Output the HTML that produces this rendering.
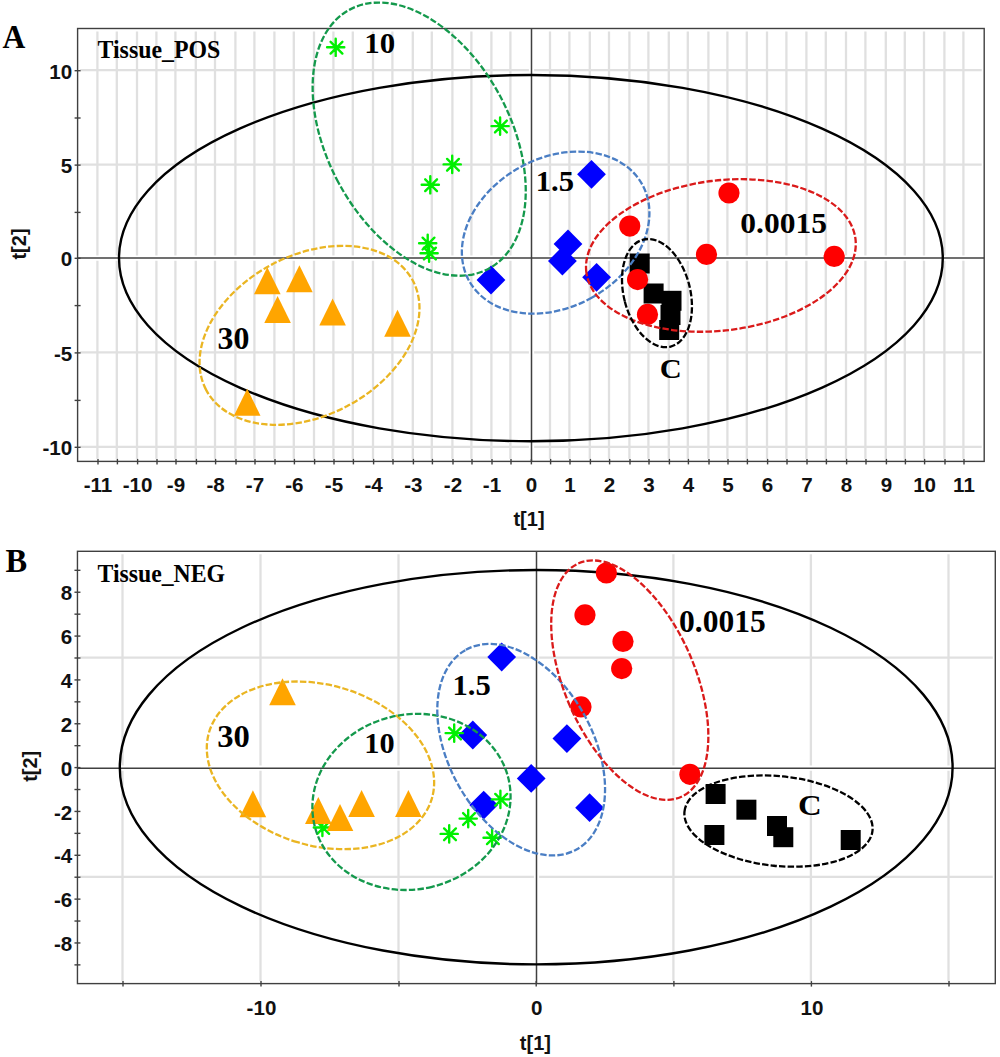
<!DOCTYPE html><html><head><meta charset="utf-8"><style>html,body{margin:0;padding:0;background:#fff;}svg{display:block;}.sans{font-family:"Liberation Sans",sans-serif;font-weight:bold;}.serif{font-family:"Liberation Serif",serif;font-weight:bold;}</style></head><body>
<svg width="1000" height="1057" viewBox="0 0 1000 1057">
<rect x="0" y="0" width="1000" height="1057" fill="#fff"/>
<line x1="97.4" y1="31.5" x2="97.4" y2="460.4" stroke="#e0e0e0" stroke-width="2.3" />
<line x1="116.8" y1="31.5" x2="116.8" y2="460.4" stroke="#e0e0e0" stroke-width="2.3" />
<line x1="137" y1="31.5" x2="137" y2="460.4" stroke="#e0e0e0" stroke-width="2.3" />
<line x1="156.4" y1="31.5" x2="156.4" y2="460.4" stroke="#e0e0e0" stroke-width="2.3" />
<line x1="175.4" y1="31.5" x2="175.4" y2="460.4" stroke="#e0e0e0" stroke-width="2.3" />
<line x1="195.8" y1="31.5" x2="195.8" y2="460.4" stroke="#e0e0e0" stroke-width="2.3" />
<line x1="215" y1="31.5" x2="215" y2="460.4" stroke="#e0e0e0" stroke-width="2.3" />
<line x1="235.4" y1="31.5" x2="235.4" y2="460.4" stroke="#e0e0e0" stroke-width="2.3" />
<line x1="254.4" y1="31.5" x2="254.4" y2="460.4" stroke="#e0e0e0" stroke-width="2.3" />
<line x1="274.4" y1="31.5" x2="274.4" y2="460.4" stroke="#e0e0e0" stroke-width="2.3" />
<line x1="293.8" y1="31.5" x2="293.8" y2="460.4" stroke="#e0e0e0" stroke-width="2.3" />
<line x1="314" y1="31.5" x2="314" y2="460.4" stroke="#e0e0e0" stroke-width="2.3" />
<line x1="333.4" y1="31.5" x2="333.4" y2="460.4" stroke="#e0e0e0" stroke-width="2.3" />
<line x1="352.8" y1="31.5" x2="352.8" y2="460.4" stroke="#e0e0e0" stroke-width="2.3" />
<line x1="373" y1="31.5" x2="373" y2="460.4" stroke="#e0e0e0" stroke-width="2.3" />
<line x1="392.4" y1="31.5" x2="392.4" y2="460.4" stroke="#e0e0e0" stroke-width="2.3" />
<line x1="412.8" y1="31.5" x2="412.8" y2="460.4" stroke="#e0e0e0" stroke-width="2.3" />
<line x1="431.8" y1="31.5" x2="431.8" y2="460.4" stroke="#e0e0e0" stroke-width="2.3" />
<line x1="452.4" y1="31.5" x2="452.4" y2="460.4" stroke="#e0e0e0" stroke-width="2.3" />
<line x1="471.4" y1="31.5" x2="471.4" y2="460.4" stroke="#e0e0e0" stroke-width="2.3" />
<line x1="491.4" y1="31.5" x2="491.4" y2="460.4" stroke="#e0e0e0" stroke-width="2.3" />
<line x1="510.4" y1="31.5" x2="510.4" y2="460.4" stroke="#e0e0e0" stroke-width="2.3" />
<line x1="550" y1="31.5" x2="550" y2="460.4" stroke="#e0e0e0" stroke-width="2.3" />
<line x1="569.4" y1="31.5" x2="569.4" y2="460.4" stroke="#e0e0e0" stroke-width="2.3" />
<line x1="589.8" y1="31.5" x2="589.8" y2="460.4" stroke="#e0e0e0" stroke-width="2.3" />
<line x1="609" y1="31.5" x2="609" y2="460.4" stroke="#e0e0e0" stroke-width="2.3" />
<line x1="629.4" y1="31.5" x2="629.4" y2="460.4" stroke="#e0e0e0" stroke-width="2.3" />
<line x1="648.4" y1="31.5" x2="648.4" y2="460.4" stroke="#e0e0e0" stroke-width="2.3" />
<line x1="668.8" y1="31.5" x2="668.8" y2="460.4" stroke="#e0e0e0" stroke-width="2.3" />
<line x1="687.8" y1="31.5" x2="687.8" y2="460.4" stroke="#e0e0e0" stroke-width="2.3" />
<line x1="708.4" y1="31.5" x2="708.4" y2="460.4" stroke="#e0e0e0" stroke-width="2.3" />
<line x1="727.4" y1="31.5" x2="727.4" y2="460.4" stroke="#e0e0e0" stroke-width="2.3" />
<line x1="746.8" y1="31.5" x2="746.8" y2="460.4" stroke="#e0e0e0" stroke-width="2.3" />
<line x1="767" y1="31.5" x2="767" y2="460.4" stroke="#e0e0e0" stroke-width="2.3" />
<line x1="786.4" y1="31.5" x2="786.4" y2="460.4" stroke="#e0e0e0" stroke-width="2.3" />
<line x1="806.4" y1="31.5" x2="806.4" y2="460.4" stroke="#e0e0e0" stroke-width="2.3" />
<line x1="825.8" y1="31.5" x2="825.8" y2="460.4" stroke="#e0e0e0" stroke-width="2.3" />
<line x1="846" y1="31.5" x2="846" y2="460.4" stroke="#e0e0e0" stroke-width="2.3" />
<line x1="865.4" y1="31.5" x2="865.4" y2="460.4" stroke="#e0e0e0" stroke-width="2.3" />
<line x1="885.8" y1="31.5" x2="885.8" y2="460.4" stroke="#e0e0e0" stroke-width="2.3" />
<line x1="904.8" y1="31.5" x2="904.8" y2="460.4" stroke="#e0e0e0" stroke-width="2.3" />
<line x1="924" y1="31.5" x2="924" y2="460.4" stroke="#e0e0e0" stroke-width="2.3" />
<line x1="944.4" y1="31.5" x2="944.4" y2="460.4" stroke="#e0e0e0" stroke-width="2.3" />
<line x1="963.4" y1="31.5" x2="963.4" y2="460.4" stroke="#e0e0e0" stroke-width="2.3" />
<line x1="78.6" y1="70.2" x2="982.2" y2="70.2" stroke="#e0e0e0" stroke-width="2.3" />
<line x1="78.6" y1="164.6" x2="982.2" y2="164.6" stroke="#e0e0e0" stroke-width="2.3" />
<line x1="78.6" y1="352.4" x2="982.2" y2="352.4" stroke="#e0e0e0" stroke-width="2.3" />
<line x1="78.6" y1="446.8" x2="982.2" y2="446.8" stroke="#e0e0e0" stroke-width="2.3" />
<rect x="77.6" y="28.5" width="906.6" height="432.9" fill="none" stroke="#fff" stroke-width="5"/>
<line x1="531.5" y1="28.5" x2="531.5" y2="461.4" stroke="#fff" stroke-width="5.2" />
<line x1="77.6" y1="258.1" x2="984.2" y2="258.1" stroke="#fff" stroke-width="5.2" />
<line x1="531.5" y1="28.5" x2="531.5" y2="461.4" stroke="#404040" stroke-width="1.5" />
<line x1="77.6" y1="258.1" x2="984.2" y2="258.1" stroke="#404040" stroke-width="1.5" />
<rect x="77.6" y="28.5" width="906.6" height="432.9" fill="none" stroke="#404040" stroke-width="1.4"/>
<line x1="98" y1="458.9" x2="98" y2="464.4" stroke="#404040" stroke-width="1.4" />
<line x1="117.4" y1="458.9" x2="117.4" y2="464.4" stroke="#404040" stroke-width="1.4" />
<line x1="137.6" y1="458.9" x2="137.6" y2="464.4" stroke="#404040" stroke-width="1.4" />
<line x1="157" y1="458.9" x2="157" y2="464.4" stroke="#404040" stroke-width="1.4" />
<line x1="176" y1="458.9" x2="176" y2="464.4" stroke="#404040" stroke-width="1.4" />
<line x1="196.4" y1="458.9" x2="196.4" y2="464.4" stroke="#404040" stroke-width="1.4" />
<line x1="215.6" y1="458.9" x2="215.6" y2="464.4" stroke="#404040" stroke-width="1.4" />
<line x1="236" y1="458.9" x2="236" y2="464.4" stroke="#404040" stroke-width="1.4" />
<line x1="255" y1="458.9" x2="255" y2="464.4" stroke="#404040" stroke-width="1.4" />
<line x1="275" y1="458.9" x2="275" y2="464.4" stroke="#404040" stroke-width="1.4" />
<line x1="294.4" y1="458.9" x2="294.4" y2="464.4" stroke="#404040" stroke-width="1.4" />
<line x1="314.6" y1="458.9" x2="314.6" y2="464.4" stroke="#404040" stroke-width="1.4" />
<line x1="334" y1="458.9" x2="334" y2="464.4" stroke="#404040" stroke-width="1.4" />
<line x1="353.4" y1="458.9" x2="353.4" y2="464.4" stroke="#404040" stroke-width="1.4" />
<line x1="373.6" y1="458.9" x2="373.6" y2="464.4" stroke="#404040" stroke-width="1.4" />
<line x1="393" y1="458.9" x2="393" y2="464.4" stroke="#404040" stroke-width="1.4" />
<line x1="413.4" y1="458.9" x2="413.4" y2="464.4" stroke="#404040" stroke-width="1.4" />
<line x1="432.4" y1="458.9" x2="432.4" y2="464.4" stroke="#404040" stroke-width="1.4" />
<line x1="453" y1="458.9" x2="453" y2="464.4" stroke="#404040" stroke-width="1.4" />
<line x1="472" y1="458.9" x2="472" y2="464.4" stroke="#404040" stroke-width="1.4" />
<line x1="492" y1="458.9" x2="492" y2="464.4" stroke="#404040" stroke-width="1.4" />
<line x1="511" y1="458.9" x2="511" y2="464.4" stroke="#404040" stroke-width="1.4" />
<line x1="531.4" y1="458.9" x2="531.4" y2="464.4" stroke="#404040" stroke-width="1.4" />
<line x1="550.6" y1="458.9" x2="550.6" y2="464.4" stroke="#404040" stroke-width="1.4" />
<line x1="570" y1="458.9" x2="570" y2="464.4" stroke="#404040" stroke-width="1.4" />
<line x1="590.4" y1="458.9" x2="590.4" y2="464.4" stroke="#404040" stroke-width="1.4" />
<line x1="609.6" y1="458.9" x2="609.6" y2="464.4" stroke="#404040" stroke-width="1.4" />
<line x1="630" y1="458.9" x2="630" y2="464.4" stroke="#404040" stroke-width="1.4" />
<line x1="649" y1="458.9" x2="649" y2="464.4" stroke="#404040" stroke-width="1.4" />
<line x1="669.4" y1="458.9" x2="669.4" y2="464.4" stroke="#404040" stroke-width="1.4" />
<line x1="688.4" y1="458.9" x2="688.4" y2="464.4" stroke="#404040" stroke-width="1.4" />
<line x1="709" y1="458.9" x2="709" y2="464.4" stroke="#404040" stroke-width="1.4" />
<line x1="728" y1="458.9" x2="728" y2="464.4" stroke="#404040" stroke-width="1.4" />
<line x1="747.4" y1="458.9" x2="747.4" y2="464.4" stroke="#404040" stroke-width="1.4" />
<line x1="767.6" y1="458.9" x2="767.6" y2="464.4" stroke="#404040" stroke-width="1.4" />
<line x1="787" y1="458.9" x2="787" y2="464.4" stroke="#404040" stroke-width="1.4" />
<line x1="807" y1="458.9" x2="807" y2="464.4" stroke="#404040" stroke-width="1.4" />
<line x1="826.4" y1="458.9" x2="826.4" y2="464.4" stroke="#404040" stroke-width="1.4" />
<line x1="846.6" y1="458.9" x2="846.6" y2="464.4" stroke="#404040" stroke-width="1.4" />
<line x1="866" y1="458.9" x2="866" y2="464.4" stroke="#404040" stroke-width="1.4" />
<line x1="886.4" y1="458.9" x2="886.4" y2="464.4" stroke="#404040" stroke-width="1.4" />
<line x1="905.4" y1="458.9" x2="905.4" y2="464.4" stroke="#404040" stroke-width="1.4" />
<line x1="924.6" y1="458.9" x2="924.6" y2="464.4" stroke="#404040" stroke-width="1.4" />
<line x1="945" y1="458.9" x2="945" y2="464.4" stroke="#404040" stroke-width="1.4" />
<line x1="964" y1="458.9" x2="964" y2="464.4" stroke="#404040" stroke-width="1.4" />
<line x1="74.6" y1="70.7" x2="80.6" y2="70.7" stroke="#404040" stroke-width="1.4" />
<line x1="74.6" y1="118" x2="80.6" y2="118" stroke="#404040" stroke-width="1.4" />
<line x1="74.6" y1="165.1" x2="80.6" y2="165.1" stroke="#404040" stroke-width="1.4" />
<line x1="74.6" y1="212.4" x2="80.6" y2="212.4" stroke="#404040" stroke-width="1.4" />
<line x1="74.6" y1="258.3" x2="80.6" y2="258.3" stroke="#404040" stroke-width="1.4" />
<line x1="74.6" y1="305.6" x2="80.6" y2="305.6" stroke="#404040" stroke-width="1.4" />
<line x1="74.6" y1="352.9" x2="80.6" y2="352.9" stroke="#404040" stroke-width="1.4" />
<line x1="74.6" y1="400.4" x2="80.6" y2="400.4" stroke="#404040" stroke-width="1.4" />
<line x1="74.6" y1="447.3" x2="80.6" y2="447.3" stroke="#404040" stroke-width="1.4" />
<text x="98" y="492.2" class="sans" font-size="20.6" text-anchor="middle" fill="#111" >-11</text>
<text x="137.6" y="492.2" class="sans" font-size="20.6" text-anchor="middle" fill="#111" >-10</text>
<text x="176" y="492.2" class="sans" font-size="20.6" text-anchor="middle" fill="#111" >-9</text>
<text x="215.6" y="492.2" class="sans" font-size="20.6" text-anchor="middle" fill="#111" >-8</text>
<text x="255" y="492.2" class="sans" font-size="20.6" text-anchor="middle" fill="#111" >-7</text>
<text x="294.4" y="492.2" class="sans" font-size="20.6" text-anchor="middle" fill="#111" >-6</text>
<text x="334" y="492.2" class="sans" font-size="20.6" text-anchor="middle" fill="#111" >-5</text>
<text x="373.6" y="492.2" class="sans" font-size="20.6" text-anchor="middle" fill="#111" >-4</text>
<text x="413.4" y="492.2" class="sans" font-size="20.6" text-anchor="middle" fill="#111" >-3</text>
<text x="453" y="492.2" class="sans" font-size="20.6" text-anchor="middle" fill="#111" >-2</text>
<text x="492" y="492.2" class="sans" font-size="20.6" text-anchor="middle" fill="#111" >-1</text>
<text x="531.4" y="492.2" class="sans" font-size="20.6" text-anchor="middle" fill="#111" >0</text>
<text x="570" y="492.2" class="sans" font-size="20.6" text-anchor="middle" fill="#111" >1</text>
<text x="609.6" y="492.2" class="sans" font-size="20.6" text-anchor="middle" fill="#111" >2</text>
<text x="649" y="492.2" class="sans" font-size="20.6" text-anchor="middle" fill="#111" >3</text>
<text x="688.4" y="492.2" class="sans" font-size="20.6" text-anchor="middle" fill="#111" >4</text>
<text x="728" y="492.2" class="sans" font-size="20.6" text-anchor="middle" fill="#111" >5</text>
<text x="767.6" y="492.2" class="sans" font-size="20.6" text-anchor="middle" fill="#111" >6</text>
<text x="807" y="492.2" class="sans" font-size="20.6" text-anchor="middle" fill="#111" >7</text>
<text x="846.6" y="492.2" class="sans" font-size="20.6" text-anchor="middle" fill="#111" >8</text>
<text x="886.4" y="492.2" class="sans" font-size="20.6" text-anchor="middle" fill="#111" >9</text>
<text x="924.6" y="492.2" class="sans" font-size="20.6" text-anchor="middle" fill="#111" >10</text>
<text x="964" y="492.2" class="sans" font-size="20.6" text-anchor="middle" fill="#111" >11</text>
<text x="72.2" y="78.8" class="sans" font-size="20.6" text-anchor="end" fill="#111" >10</text>
<text x="72.2" y="173.2" class="sans" font-size="20.6" text-anchor="end" fill="#111" >5</text>
<text x="72.2" y="266.4" class="sans" font-size="20.6" text-anchor="end" fill="#111" >0</text>
<text x="72.2" y="361" class="sans" font-size="20.6" text-anchor="end" fill="#111" >-5</text>
<text x="72.2" y="455.4" class="sans" font-size="20.6" text-anchor="end" fill="#111" >-10</text>
<text x="529" y="526" class="sans" font-size="20" text-anchor="middle" fill="#111" >t[1]</text>
<text x="0" y="0" class="sans" font-size="20" text-anchor="middle" fill="#111" transform="translate(26,244) rotate(-90)">t[2]</text>
<ellipse cx="530.9" cy="258.1" rx="411.9" ry="183.1" fill="none" stroke="#000" stroke-width="2.4"/>
<rect x="629.7" y="253.5" width="20" height="20" fill="#000"/>
<rect x="643.6" y="283.5" width="20" height="20" fill="#000"/>
<rect x="661.5" y="290.8" width="20" height="20" fill="#000"/>
<rect x="660.5" y="305" width="20" height="20" fill="#000"/>
<rect x="659.2" y="320" width="20" height="20" fill="#000"/>
<circle cx="729" cy="193" r="10.6" fill="#ff0000"/>
<circle cx="706.5" cy="254.4" r="10.6" fill="#ff0000"/>
<circle cx="834.2" cy="256.4" r="10.6" fill="#ff0000"/>
<circle cx="629.8" cy="226.1" r="10.6" fill="#ff0000"/>
<circle cx="637.6" cy="279.6" r="10.6" fill="#ff0000"/>
<circle cx="647.5" cy="314.4" r="10.6" fill="#ff0000"/>
<path d="M591.5 159.9L605.9 174.3L591.5 188.7L577.1 174.3Z" fill="#0000ff"/>
<path d="M568 229.6L582.4 244L568 258.4L553.6 244Z" fill="#0000ff"/>
<path d="M562.4 246.6L576.8 261L562.4 275.4L548 261Z" fill="#0000ff"/>
<path d="M491 265.6L505.4 280L491 294.4L476.6 280Z" fill="#0000ff"/>
<path d="M596.6 262.9L611 277.3L596.6 291.7L582.2 277.3Z" fill="#0000ff"/>
<path d="M327.1 47.3H344.3M335.7 38.7V55.9M330.6 41.8L342.4 53.6M330.6 53.6L342.4 41.8" stroke="#00f000" stroke-width="2.4" stroke-linecap="round" fill="none"/>
<path d="M491.5 126.1H508.7M500.1 117.5V134.7M495 120.6L506.8 132.4M495 132.4L506.8 120.6" stroke="#00f000" stroke-width="2.4" stroke-linecap="round" fill="none"/>
<path d="M443.6 164.4H460.8M452.2 155.8V173M447.1 158.9L458.9 170.7M447.1 170.7L458.9 158.9" stroke="#00f000" stroke-width="2.4" stroke-linecap="round" fill="none"/>
<path d="M421.7 184.8H438.9M430.3 176.2V193.4M425.2 179.3L437 191.1M425.2 191.1L437 179.3" stroke="#00f000" stroke-width="2.4" stroke-linecap="round" fill="none"/>
<path d="M419.1 243.2H436.3M427.7 234.6V251.8M422.6 237.7L434.4 249.5M422.6 249.5L434.4 237.7" stroke="#00f000" stroke-width="2.4" stroke-linecap="round" fill="none"/>
<path d="M420.5 253.2H437.7M429.1 244.6V261.8M424 247.7L435.8 259.5M424 259.5L435.8 247.7" stroke="#00f000" stroke-width="2.4" stroke-linecap="round" fill="none"/>
<path d="M267.3 267.3L280.6 294.3L254 294.3Z" fill="#ffa500"/>
<path d="M299.4 265.3L312.7 292.3L286.1 292.3Z" fill="#ffa500"/>
<path d="M277.6 296L290.9 323L264.3 323Z" fill="#ffa500"/>
<path d="M332.6 298.4L345.9 325.4L319.3 325.4Z" fill="#ffa500"/>
<path d="M397.5 309.7L410.8 336.7L384.2 336.7Z" fill="#ffa500"/>
<path d="M247.2 388.7L260.5 415.7L233.9 415.7Z" fill="#ffa500"/>
<ellipse cx="419.19" cy="139.15" rx="91.66" ry="147.01" transform="rotate(151.78 419.19 139.15)" fill="none" stroke="#14994c" stroke-width="2.3" stroke-dasharray="6.4 2.2"/>
<ellipse cx="555.64" cy="232.62" rx="74.44" ry="99.09" transform="rotate(60.68 555.64 232.62)" fill="none" stroke="#4a7ec4" stroke-width="2.3" stroke-dasharray="6.4 2.2"/>
<ellipse cx="720.9" cy="255.47" rx="135.59" ry="75.04" transform="rotate(172.97 720.9 255.47)" fill="none" stroke="#da1a1a" stroke-width="2.3" stroke-dasharray="6.4 2.2"/>
<ellipse cx="656.98" cy="293.1" rx="33.23" ry="55.21" transform="rotate(165.65 656.98 293.1)" fill="none" stroke="#000" stroke-width="2.3" stroke-dasharray="6.4 2.2"/>
<ellipse cx="309.52" cy="335.33" rx="116.89" ry="80.21" transform="rotate(152.2 309.52 335.33)" fill="none" stroke="#eab522" stroke-width="2.3" stroke-dasharray="6.4 2.2"/>
<text transform="translate(2.45 47.75) scale(0.921 1)" class="serif" font-size="34.31" fill="#000">A</text>
<text transform="translate(97.5 57.9) scale(0.97 1)" class="serif" font-size="24.6" fill="#000">Tissue_POS</text>
<text transform="translate(364.23 52.75) scale(1.03 1)" class="serif" font-size="30.0" fill="#000">10</text>
<text transform="translate(535.75 191.25) scale(1.02 1)" class="serif" font-size="30.0" fill="#000">1.5</text>
<text transform="translate(740.27 233.25) scale(1.079 1)" class="serif" font-size="29.23" fill="#000">0.0015</text>
<text transform="translate(659.82 378.45) scale(1.083 1)" class="serif" font-size="28.15" fill="#000">C</text>
<text transform="translate(217.46 348.55) scale(1.016 1)" class="serif" font-size="31.38" fill="#000">30</text>
<line x1="122.5" y1="554.3" x2="122.5" y2="982.6" stroke="#e0e0e0" stroke-width="2.3" />
<line x1="260.5" y1="554.3" x2="260.5" y2="982.6" stroke="#e0e0e0" stroke-width="2.3" />
<line x1="398.5" y1="554.3" x2="398.5" y2="982.6" stroke="#e0e0e0" stroke-width="2.3" />
<line x1="673.4" y1="554.3" x2="673.4" y2="982.6" stroke="#e0e0e0" stroke-width="2.3" />
<line x1="810.9" y1="554.3" x2="810.9" y2="982.6" stroke="#e0e0e0" stroke-width="2.3" />
<line x1="948.5" y1="554.3" x2="948.5" y2="982.6" stroke="#e0e0e0" stroke-width="2.3" />
<line x1="78.45" y1="657.6" x2="993.3" y2="657.6" stroke="#e0e0e0" stroke-width="2.3" />
<line x1="78.45" y1="876.8" x2="993.3" y2="876.8" stroke="#e0e0e0" stroke-width="2.3" />
<rect x="77.45" y="551.3" width="917.8499999999999" height="432.30000000000007" fill="none" stroke="#fff" stroke-width="5"/>
<line x1="536.5" y1="551.3" x2="536.5" y2="983.6" stroke="#fff" stroke-width="5.2" />
<line x1="77.45" y1="768.2" x2="995.3" y2="768.2" stroke="#fff" stroke-width="5.2" />
<line x1="536.5" y1="551.3" x2="536.5" y2="983.6" stroke="#404040" stroke-width="1.5" />
<line x1="77.45" y1="768.2" x2="995.3" y2="768.2" stroke="#404040" stroke-width="1.5" />
<rect x="77.45" y="551.3" width="917.8499999999999" height="432.30000000000007" fill="none" stroke="#404040" stroke-width="1.4"/>
<line x1="123" y1="981.1" x2="123" y2="986.6" stroke="#404040" stroke-width="1.4" />
<line x1="261" y1="981.1" x2="261" y2="986.6" stroke="#404040" stroke-width="1.4" />
<line x1="399" y1="981.1" x2="399" y2="986.6" stroke="#404040" stroke-width="1.4" />
<line x1="536.2" y1="981.1" x2="536.2" y2="986.6" stroke="#404040" stroke-width="1.4" />
<line x1="673.9" y1="981.1" x2="673.9" y2="986.6" stroke="#404040" stroke-width="1.4" />
<line x1="811.4" y1="981.1" x2="811.4" y2="986.6" stroke="#404040" stroke-width="1.4" />
<line x1="949" y1="981.1" x2="949" y2="986.6" stroke="#404040" stroke-width="1.4" />
<line x1="74.45" y1="964.88" x2="80.45" y2="964.88" stroke="#404040" stroke-width="1.4" />
<line x1="74.45" y1="942.96" x2="80.45" y2="942.96" stroke="#404040" stroke-width="1.4" />
<line x1="74.45" y1="921.04" x2="80.45" y2="921.04" stroke="#404040" stroke-width="1.4" />
<line x1="74.45" y1="899.12" x2="80.45" y2="899.12" stroke="#404040" stroke-width="1.4" />
<line x1="74.45" y1="877.2" x2="80.45" y2="877.2" stroke="#404040" stroke-width="1.4" />
<line x1="74.45" y1="855.28" x2="80.45" y2="855.28" stroke="#404040" stroke-width="1.4" />
<line x1="74.45" y1="833.36" x2="80.45" y2="833.36" stroke="#404040" stroke-width="1.4" />
<line x1="74.45" y1="811.44" x2="80.45" y2="811.44" stroke="#404040" stroke-width="1.4" />
<line x1="74.45" y1="789.52" x2="80.45" y2="789.52" stroke="#404040" stroke-width="1.4" />
<line x1="74.45" y1="767.6" x2="80.45" y2="767.6" stroke="#404040" stroke-width="1.4" />
<line x1="74.45" y1="745.68" x2="80.45" y2="745.68" stroke="#404040" stroke-width="1.4" />
<line x1="74.45" y1="723.76" x2="80.45" y2="723.76" stroke="#404040" stroke-width="1.4" />
<line x1="74.45" y1="701.84" x2="80.45" y2="701.84" stroke="#404040" stroke-width="1.4" />
<line x1="74.45" y1="679.92" x2="80.45" y2="679.92" stroke="#404040" stroke-width="1.4" />
<line x1="74.45" y1="658" x2="80.45" y2="658" stroke="#404040" stroke-width="1.4" />
<line x1="74.45" y1="636.08" x2="80.45" y2="636.08" stroke="#404040" stroke-width="1.4" />
<line x1="74.45" y1="614.16" x2="80.45" y2="614.16" stroke="#404040" stroke-width="1.4" />
<line x1="74.45" y1="592.24" x2="80.45" y2="592.24" stroke="#404040" stroke-width="1.4" />
<line x1="74.45" y1="570.32" x2="80.45" y2="570.32" stroke="#404040" stroke-width="1.4" />
<text x="261.5" y="1014.7" class="sans" font-size="20.6" text-anchor="middle" fill="#111" >-10</text>
<text x="536.7" y="1014.7" class="sans" font-size="20.6" text-anchor="middle" fill="#111" >0</text>
<text x="811.9" y="1014.7" class="sans" font-size="20.6" text-anchor="middle" fill="#111" >10</text>
<text x="72.2" y="600.34" class="sans" font-size="20.6" text-anchor="end" fill="#111" >8</text>
<text x="72.2" y="644.18" class="sans" font-size="20.6" text-anchor="end" fill="#111" >6</text>
<text x="72.2" y="688.02" class="sans" font-size="20.6" text-anchor="end" fill="#111" >4</text>
<text x="72.2" y="731.86" class="sans" font-size="20.6" text-anchor="end" fill="#111" >2</text>
<text x="72.2" y="775.7" class="sans" font-size="20.6" text-anchor="end" fill="#111" >0</text>
<text x="72.2" y="819.54" class="sans" font-size="20.6" text-anchor="end" fill="#111" >-2</text>
<text x="72.2" y="863.38" class="sans" font-size="20.6" text-anchor="end" fill="#111" >-4</text>
<text x="72.2" y="907.22" class="sans" font-size="20.6" text-anchor="end" fill="#111" >-6</text>
<text x="72.2" y="951.06" class="sans" font-size="20.6" text-anchor="end" fill="#111" >-8</text>
<text x="535.4" y="1049.5" class="sans" font-size="20" text-anchor="middle" fill="#111" >t[1]</text>
<text x="0" y="0" class="sans" font-size="20" text-anchor="middle" fill="#111" transform="translate(36.9,766.3) rotate(-90)">t[2]</text>
<ellipse cx="536.2" cy="767.2" rx="416.4" ry="197.2" fill="none" stroke="#000" stroke-width="2.4"/>
<rect x="705.6" y="784" width="20" height="20" fill="#000"/>
<rect x="736.4" y="799.7" width="20" height="20" fill="#000"/>
<rect x="704.4" y="825" width="20" height="20" fill="#000"/>
<rect x="767" y="816" width="20" height="20" fill="#000"/>
<rect x="773.3" y="827.2" width="20" height="20" fill="#000"/>
<rect x="840.7" y="830" width="20" height="20" fill="#000"/>
<circle cx="606.4" cy="573" r="10.6" fill="#ff0000"/>
<circle cx="585" cy="614.9" r="10.6" fill="#ff0000"/>
<circle cx="623" cy="641.4" r="10.6" fill="#ff0000"/>
<circle cx="621.7" cy="668.6" r="10.6" fill="#ff0000"/>
<circle cx="581" cy="706.9" r="10.6" fill="#ff0000"/>
<circle cx="689.9" cy="774.3" r="10.6" fill="#ff0000"/>
<path d="M501.7 642.6L516.1 657L501.7 671.4L487.3 657Z" fill="#0000ff"/>
<path d="M472.8 720.6L487.2 735L472.8 749.4L458.4 735Z" fill="#0000ff"/>
<path d="M566.9 724.2L581.3 738.6L566.9 753L552.5 738.6Z" fill="#0000ff"/>
<path d="M531.2 764L545.6 778.4L531.2 792.8L516.8 778.4Z" fill="#0000ff"/>
<path d="M483.7 790.7L498.1 805.1L483.7 819.5L469.3 805.1Z" fill="#0000ff"/>
<path d="M589.6 793.3L604 807.7L589.6 822.1L575.2 807.7Z" fill="#0000ff"/>
<path d="M445.6 733.1H462.8M454.2 724.5V741.7M449.1 727.6L460.9 739.4M449.1 739.4L460.9 727.6" stroke="#00f000" stroke-width="2.4" stroke-linecap="round" fill="none"/>
<path d="M491.8 799.4H509M500.4 790.8V808M495.3 793.9L507.1 805.7M495.3 805.7L507.1 793.9" stroke="#00f000" stroke-width="2.4" stroke-linecap="round" fill="none"/>
<path d="M459.6 818.6H476.8M468.2 810V827.2M463.1 813.1L474.9 824.9M463.1 824.9L474.9 813.1" stroke="#00f000" stroke-width="2.4" stroke-linecap="round" fill="none"/>
<path d="M440.6 833.9H457.8M449.2 825.3V842.5M444.1 828.4L455.9 840.2M444.1 840.2L455.9 828.4" stroke="#00f000" stroke-width="2.4" stroke-linecap="round" fill="none"/>
<path d="M483.5 837.8H500.7M492.1 829.2V846.4M487 832.3L498.8 844.1M487 844.1L498.8 832.3" stroke="#00f000" stroke-width="2.4" stroke-linecap="round" fill="none"/>
<path d="M313.8 827.5H331M322.4 818.9V836.1M317.3 822L329.1 833.8M317.3 833.8L329.1 822" stroke="#00f000" stroke-width="2.4" stroke-linecap="round" fill="none"/>
<path d="M282.5 678.3L295.8 705.3L269.2 705.3Z" fill="#ffa500"/>
<path d="M252.9 790.3L266.2 817.3L239.6 817.3Z" fill="#ffa500"/>
<path d="M318.3 796.9L331.6 823.9L305 823.9Z" fill="#ffa500"/>
<path d="M340 804.1L353.3 831.1L326.7 831.1Z" fill="#ffa500"/>
<path d="M361.6 790.1L374.9 817.1L348.3 817.1Z" fill="#ffa500"/>
<path d="M408.4 790.1L421.7 817.1L395.1 817.1Z" fill="#ffa500"/>
<ellipse cx="320.47" cy="765.35" rx="80.26" ry="116.22" transform="rotate(106.73 320.47 765.35)" fill="none" stroke="#eab522" stroke-width="2.3" stroke-dasharray="6.4 2.2"/>
<ellipse cx="411.47" cy="801.92" rx="87.36" ry="99.74" transform="rotate(76.3 411.47 801.92)" fill="none" stroke="#14994c" stroke-width="2.3" stroke-dasharray="6.4 2.2"/>
<ellipse cx="521.17" cy="749.68" rx="114.14" ry="72.09" transform="rotate(-118.99 521.17 749.68)" fill="none" stroke="#4a7ec4" stroke-width="2.3" stroke-dasharray="6.4 2.2"/>
<ellipse cx="629.78" cy="680.15" rx="65.17" ry="127.51" transform="rotate(156.39 629.78 680.15)" fill="none" stroke="#da1a1a" stroke-width="2.3" stroke-dasharray="6.4 2.2"/>
<ellipse cx="778.49" cy="821.08" rx="94.48" ry="44.88" transform="rotate(-174.26 778.49 821.08)" fill="none" stroke="#000" stroke-width="2.3" stroke-dasharray="6.4 2.2"/>
<text transform="translate(5.6 572.4) scale(0.975 1)" class="serif" font-size="33.3" fill="#000">B</text>
<text transform="translate(97.5 581.5) scale(0.965 1)" class="serif" font-size="24.6" fill="#000">Tissue_NEG</text>
<text transform="translate(217.22 746.85) scale(1.045 1)" class="serif" font-size="31.23" fill="#000">30</text>
<text transform="translate(364.28 753.35) scale(1.038 1)" class="serif" font-size="29.23" fill="#000">10</text>
<text transform="translate(452.45 695.25) scale(1.031 1)" class="serif" font-size="29.69" fill="#000">1.5</text>
<text transform="translate(678.97 631.65) scale(1.011 1)" class="serif" font-size="31.23" fill="#000">0.0015</text>
<text transform="translate(798.01 814.75) scale(1.106 1)" class="serif" font-size="29.69" fill="#000">C</text>
</svg></body></html>
